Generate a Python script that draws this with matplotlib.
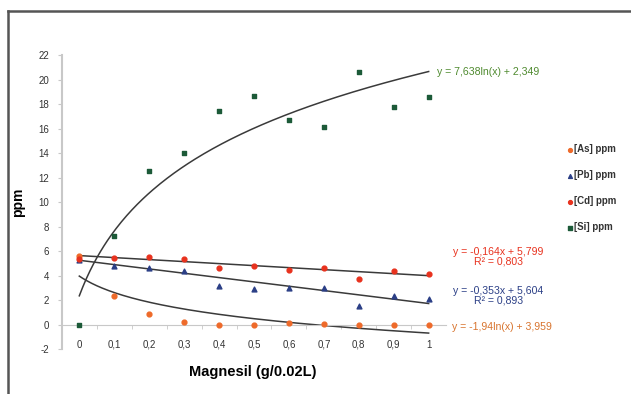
import numpy as np
import matplotlib.pyplot as plt
from matplotlib.lines import Line2D

plt.rcParams['font.family'] = ['Liberation Sans', 'DejaVu Sans']
plt.rcParams['axes.unicode_minus'] = False

# Magnesil dose (g/0.02L)
x = [0, 0.1, 0.2, 0.3, 0.4, 0.5, 0.6, 0.7, 0.8, 0.9, 1.0]
x_labels = ['0', '0,1', '0,2', '0,3', '0,4', '0,5', '0,6', '0,7', '0,8', '0,9', '1']

as_ppm = [5.6, 2.3, 0.9, 0.2, 0.0, 0.0, 0.15, 0.05, 0.0, 0.0, 0.0]
pb_ppm = [5.3, 4.75, 4.6, 4.35, 3.15, 2.9, 2.95, 2.95, 1.55, 2.35, 2.05]
cd_ppm = [5.35, 5.4, 5.5, 5.35, 4.65, 4.8, 4.45, 4.65, 3.7, 4.35, 4.15]
si_ppm = [0.0, 7.2, 12.55, 14.05, 17.45, 18.65, 16.7, 16.15, 20.6, 17.8, 18.55]

# trendline coefficients (Excel, x = point index 1..11)
as_log = (-1.94, 3.959)
pb_lin = (-0.353, 5.604)
cd_lin = (-0.164, 5.799)
si_log = (7.638, 2.349)

c_as = '#ee6a2a'
c_pb = '#2b3f86'
c_cd = '#e8321e'
c_si = '#1c5a38'

fig = plt.figure(figsize=(6.31, 3.94), dpi=100)
ax = fig.add_axes([0.098, 0.114, 0.609, 0.746])

xs = np.linspace(0, 1, 200)
idx = 1 + 10 * xs
trend_kw = dict(color='#3a3a3a', lw=1.1, zorder=2)
ax.plot(xs, si_log[0] * np.log(idx) + si_log[1], **trend_kw)
ax.plot(xs, as_log[0] * np.log(idx) + as_log[1], **trend_kw)
ax.plot(xs, pb_lin[0] * idx + pb_lin[1], **trend_kw)
ax.plot(xs, cd_lin[0] * idx + cd_lin[1], **trend_kw)

ax.scatter(x, as_ppm, marker='o', s=12, color=c_as, zorder=3, label='[As] ppm')
ax.scatter(x, pb_ppm, marker='^', s=12, color=c_pb, zorder=3, label='[Pb] ppm')
ax.scatter(x, cd_ppm, marker='o', s=12, color=c_cd, zorder=3, label='[Cd] ppm')
ax.scatter(x, si_ppm, marker='s', s=11, color=c_si, zorder=3, label='[Si] ppm')

ax.set_xlim(-0.05, 1.05)
ax.set_ylim(-2, 22)
ax.set_yticks(range(-2, 23, 2))
ax.set_xticks(x)
ax.set_xticklabels(x_labels)
ax.set_xticks(np.arange(0.05, 1.0, 0.1), minor=True)

for s in ['top', 'right']:
    ax.spines[s].set_visible(False)
ax.spines['bottom'].set_position(('data', 0))
ax.spines['bottom'].set_color('#c8c8c8')
ax.spines['left'].set_color('#c8c8c8')
ax.spines['left'].set_linewidth(1.5)
ax.tick_params(axis='x', which='major', length=0, pad=11, labelsize=7, colors='#333333')
ax.tick_params(axis='x', which='minor', length=3, color='#c8c8c8')
ax.tick_params(axis='y', length=3, color='#c8c8c8', labelsize=7, pad=6, labelcolor='#333333')

ax.set_ylabel('ppm', fontsize=10, fontweight='bold', labelpad=10)
fig.text(0.40, 0.056, 'Magnesil (g/0.02L)', fontsize=10.5, fontweight='bold',
         ha='center', va='center')

# equation labels
fig.text(0.693, 0.817, 'y = 7,638ln(x) + 2,349', fontsize=7.6, color='#4e8a2e',
         ha='left', va='center')
fig.text(0.790, 0.348, 'y = -0,164x + 5,799\nR² = 0,803', fontsize=7.6, color=c_cd,
         ha='center', va='center', linespacing=1.0)
fig.text(0.790, 0.250, 'y = -0,353x + 5,604\nR² = 0,893', fontsize=7.6, color=c_pb,
         ha='center', va='center', linespacing=1.0)
fig.text(0.716, 0.170, 'y = -1,94ln(x) + 3,959', fontsize=7.6, color='#d8742e',
         ha='left', va='center')

leg = fig.legend(loc='center left', bbox_to_anchor=(0.890, 0.522), frameon=False,
                 fontsize=7, handletextpad=0.0, markerscale=0.8,
                 labelspacing=1.65, handlelength=0.9, borderaxespad=0)
for t in leg.get_texts():
    t.set_fontweight('bold')
    t.set_color('#333333')

# outer frame (top and left edges)
fig.add_artist(Line2D([0.013, 1.0], [0.972, 0.972], transform=fig.transFigure,
                      color='#555555', lw=1.8))
fig.add_artist(Line2D([0.013, 0.013], [0.0, 0.972], transform=fig.transFigure,
                      color='#555555', lw=1.8))

fig.savefig('out.png', dpi=100)
